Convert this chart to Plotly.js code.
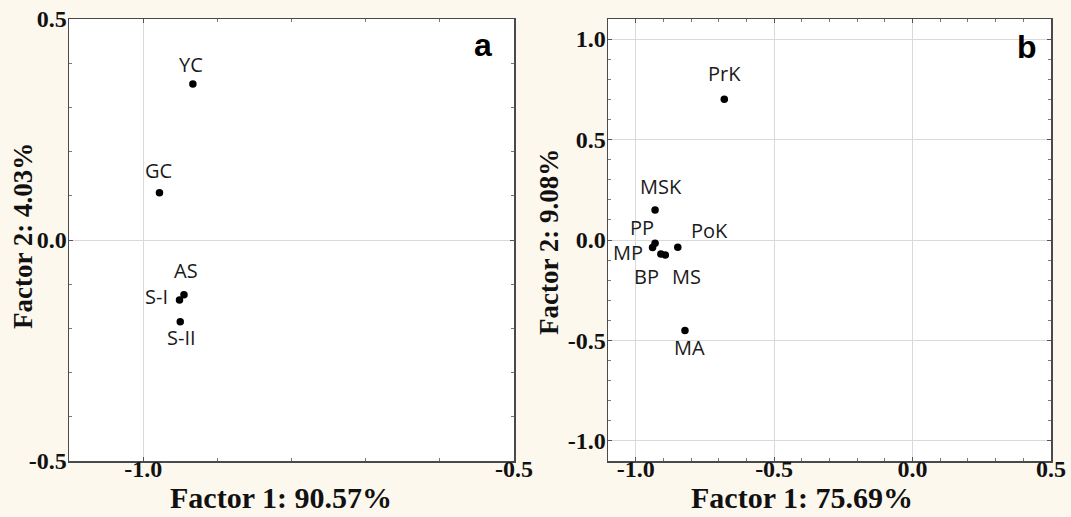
<!DOCTYPE html>
<html>
<head>
<meta charset="utf-8">
<script src="https://cdn.plot.ly/plotly-3.0.1.min.js"></script>
<style>
html,body{margin:0;padding:0;background:#fdf8ee;}
#chart{width:1071px;height:517px;}
</style>
</head>
<body>
<div id="chart"></div>
<script>
// ---- Data: panel a ----
const labelsA = ['YC', 'GC', 'AS', 'S-I', 'S-II'];
const factor1A = [-0.933, -0.978, -0.945, -0.951, -0.950];
const factor2A = [0.353, 0.107, -0.124, -0.136, -0.185];

// ---- Data: panel b ----
const labelsB = ['PrK', 'MSK', 'PP', 'MP', 'BP', 'MS', 'PoK', 'MA'];
const factor1B = [-0.680, -0.930, -0.930, -0.939, -0.909, -0.893, -0.848, -0.822];
const factor2B = [0.700, 0.149, -0.016, -0.037, -0.070, -0.075, -0.036, -0.451];

// ---- Tick labels ----
const xTickValsA = [-1.0, -0.5];
const xTickTextA = ['-1.0', '-0.5'];
const yTickValsA = [-0.5, 0.0, 0.5];
const yTickTextA = ['-0.5', '0.0', '0.5'];
const xTickValsB = [-1.0, -0.5, 0.0, 0.5];
const xTickTextB = ['-1.0', '-0.5', '0.0', '0.5'];
const yTickValsB = [-1.0, -0.5, 0.0, 0.5, 1.0];
const yTickTextB = ['-1.0', '-0.5', '0.0', '0.5', '1.0'];

// ---- Axis titles / panel letters ----
const xTitleA = 'Factor 1: 90.57%';
const yTitleA = 'Factor 2: 4.03%';
const xTitleB = 'Factor 1: 75.69%';
const yTitleB = 'Factor 2: 9.08%';
const panelLetters = ['a', 'b'];

// ---- Label placement (styles, separate from data) ----
const labelOffA = [[-2, 19, 'center'], [-1, 22, 'center'], [2, 24, 'center'], [-10, 4, 'right'], [1, -16, 'center']];
const labelOffB = [[0, 26, 'center'], [6, 24, 'center'], [-13, 16, 'center'], [-8, -5, 'right'],
                   [-14, -22, 'center'], [21, -21, 'center'], [32, 17, 'center'], [5, -17, 'center']];

const W = 1071, H = 517;
const domA = [69 / W, 514 / W];
const domB = [608 / W, 1051 / W];
const domY = [1 - 461 / H, 1 - 19 / H];

const serifTick = {family: 'Liberation Serif, Times New Roman, serif', size: 24, color: '#111', weight: 700};
const lblFont = {family: 'Open Sans, Noto Sans, sans-serif', size: 20, color: '#1a1a1a'};
const xTitleFont = {family: 'Liberation Serif, Times New Roman, serif', size: 30, color: '#111', weight: 700};
const yTitleFont = {family: 'Liberation Serif, Times New Roman, serif', size: 27, color: '#111', weight: 700};

function axis(domain, range, tv, tt, anchor, standoff) {
  return {
    domain: domain, range: range, anchor: anchor,
    tickmode: 'array', tickvals: tv, ticktext: tt,
    ticks: 'inside', ticklen: 4, tickwidth: 1, tickcolor: '#555',
    ticklabelstandoff: standoff,
    minor: {dtick: 0.1, tick0: 0, ticks: 'inside', ticklen: 3, tickwidth: 1, tickcolor: '#777', showgrid: false},
    showline: true, linecolor: '#4a4a4a', linewidth: 1.5, mirror: 'allticks',
    showgrid: true, gridcolor: '#d9d9d9', gridwidth: 1,
    zeroline: false, tickfont: Object.assign({}, serifTick), automargin: false, fixedrange: true
  };
}

const traces = [
  {x: factor1A, y: factor2A, text: labelsA, type: 'scatter', mode: 'markers', xaxis: 'x', yaxis: 'y',
   marker: {color: '#000', size: 7.5}, hoverinfo: 'text', showlegend: false},
  {x: factor1B, y: factor2B, text: labelsB, type: 'scatter', mode: 'markers', xaxis: 'x2', yaxis: 'y2',
   marker: {color: '#000', size: 7.5}, hoverinfo: 'text', showlegend: false}
];

const annotations = [];
labelsA.forEach((t, i) => annotations.push({
  x: factor1A[i], y: factor2A[i], xref: 'x', yref: 'y', text: t, showarrow: false,
  xshift: labelOffA[i][0], yshift: labelOffA[i][1], xanchor: labelOffA[i][2], yanchor: 'middle', font: lblFont
}));
labelsB.forEach((t, i) => annotations.push({
  x: factor1B[i], y: factor2B[i], xref: 'x2', yref: 'y2', text: t, showarrow: false,
  xshift: labelOffB[i][0], yshift: labelOffB[i][1], xanchor: labelOffB[i][2], yanchor: 'middle', font: lblFont
}));
// axis titles
annotations.push({xref: 'paper', yref: 'paper', x: 281 / W, y: 1 - 497 / H, text: xTitleA, showarrow: false,
  xanchor: 'center', yanchor: 'middle', font: xTitleFont});
annotations.push({xref: 'paper', yref: 'paper', x: 802 / W, y: 1 - 497 / H, text: xTitleB, showarrow: false,
  xanchor: 'center', yanchor: 'middle', font: xTitleFont});
annotations.push({xref: 'paper', yref: 'paper', x: 23 / W, y: 1 - 236 / H, text: yTitleA, showarrow: false,
  textangle: -90, xanchor: 'center', yanchor: 'middle', font: yTitleFont});
annotations.push({xref: 'paper', yref: 'paper', x: 549 / W, y: 1 - 242 / H, text: yTitleB, showarrow: false,
  textangle: -90, xanchor: 'center', yanchor: 'middle', font: yTitleFont});
// panel letters
annotations.push({xref: 'paper', yref: 'paper', x: 483 / W, y: 1 - 45 / H, text: panelLetters[0], showarrow: false,
  xanchor: 'center', yanchor: 'middle', font: {family: 'Liberation Sans, Arial, sans-serif', size: 32, color: '#000', weight: 700}});
annotations.push({xref: 'paper', yref: 'paper', x: 1027 / W, y: 1 - 47 / H, text: panelLetters[1], showarrow: false,
  xanchor: 'center', yanchor: 'middle', font: {family: 'Liberation Sans, Arial, sans-serif', size: 32, color: '#000', weight: 700}});

const layout = {
  width: W, height: H,
  margin: {l: 0, r: 0, t: 0, b: 0, pad: 0},
  paper_bgcolor: '#fdf8ee', plot_bgcolor: '#ffffff',
  showlegend: false,
  xaxis: axis(domA, [-1.1, -0.5], xTickValsA, xTickTextA, 'y', -14),
  yaxis: axis(domY, [-0.5, 0.5], yTickValsA, yTickTextA, 'x', -4),
  xaxis2: axis(domB, [-1.1, 0.5], xTickValsB, xTickTextB, 'y2', -14),
  yaxis2: axis(domY, [-1.1, 1.1], yTickValsB, yTickTextB, 'x2', -4),
  annotations: annotations
};

Plotly.newPlot('chart', traces, layout, {displayModeBar: false, staticPlot: true});
</script>
</body>
</html>
